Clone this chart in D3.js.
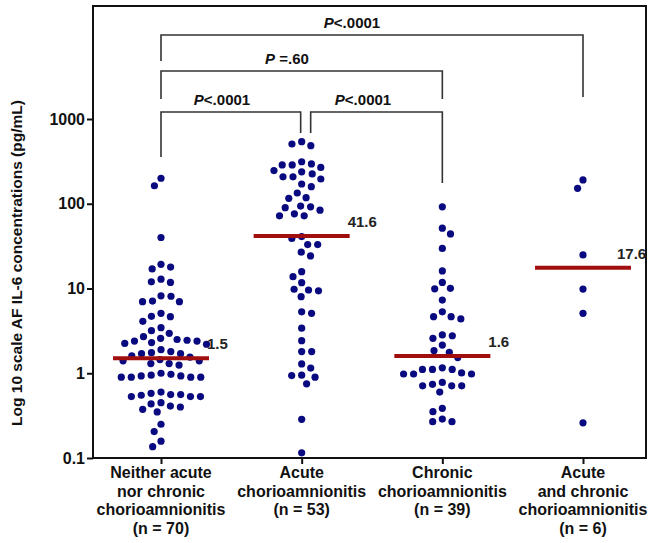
<!DOCTYPE html>
<html>
<head>
<meta charset="utf-8">
<script src="https://cdn.jsdelivr.net/npm/d3@7/dist/d3.min.js"></script>
<style>
body{margin:0;background:#fff;}
text{font-family:"Liberation Sans",Arial,sans-serif;}
</style>
</head>
<body>
<div id="chart"></div>
<script>
// group labels (one line per entry)
let categories = [
    ["Neither acute", "nor chronic", "chorioamnionitis", "(n = 70)"],
    ["Acute", "chorioamnionitis", "(n = 53)"],
    ["Chronic", "chorioamnionitis", "(n = 39)"],
    ["Acute", "and chronic", "chorioamnionitis", "(n = 6)"]
];

// AF IL-6 values (pg/mL)
let neither = [200, 163, 40,
    19.3, 17.0, 17.9, 12.0, 11.8, 12.9,
    8.2, 7.1, 7.0, 7.0, 8.1, 5.1, 4.65, 4.1, 4.7,
    3.45, 2.96, 2.58, 2.70, 3.18,
    2.4, 2.25, 2.2, 2.5, 2.45, 2.3, 2.4,
    1.75, 1.7, 1.55, 1.8, 1.9, 1.6, 1.7,
    1.4, 1.3, 1.45, 1.4, 1.25, 1.3,
    1.0, 0.97, 0.93, 0.9, 0.9, 0.9, 0.9, 0.93, 0.95,
    0.6, 0.56, 0.53, 0.53, 0.55, 0.53, 0.56, 0.58,
    0.435, 0.40, 0.35, 0.375, 0.41, 0.45,
    0.25, 0.205, 0.158, 0.136];
let acute = [540, 484, 507,
    287, 313, 295, 268, 287,
    208, 246, 225, 238, 196, 208,
    171, 159, 134, 116, 118,
    92, 84, 72, 72, 76, 90, 94,
    39, 41, 33, 33, 26.8, 24.2,
    15.8, 13.8, 11.7, 9.6, 8.0, 9.4, 9.8,
    5.3, 5.1, 3.4, 2.42, 1.8, 1.8, 1.29, 1.15,
    0.94, 0.75, 0.9, 0.95, 0.286, 0.115];
let chronic = [92, 51.5, 44, 29.7, 16.1, 11.8, 9.9, 10.05, 7.3,
    4.65, 4.37, 4.65, 5.3,
    2.83, 2.58, 2.15, 2.77,
    1.85, 1.53, 1.77,
    1.16, 1.11, 0.98, 0.98, 0.98, 1.01, 1.11, 1.11,
    0.74, 0.71, 0.60, 0.71, 0.71, 0.78,
    0.386, 0.352, 0.288, 0.268, 0.268];
let both = [191, 152, 24.9, 9.85, 5.1, 0.26];

let medians = [1.5, 41.6, 1.6, 17.6];
let medianLabels = ["1.5", "41.6", "1.6", "17.6"];
let yTicks = [0.1, 1, 10, 100, 1000];
let yTickLabels = ["0.1", "1", "10", "100", "1000"];

// [from group, to group, p text]
let comparisons = [[0, 3, "<.0001"], [0, 2, " =.60"], [0, 1, "<.0001"], [1, 2, "<.0001"]];

let groups = [neither, acute, chronic, both];

let width = 649, height = 543;
let svg = d3.select("#chart").append("svg")
    .attr("width", width).attr("height", height);

let plotLeft = 93, plotRight = 646, plotTop = 6, plotBottom = 458;

let x = d3.scalePoint().domain(d3.range(categories.length)).range([161, 583]);
let y = d3.scaleLog().domain([0.1, 1000]).range([plotBottom, 119]);

// frame
svg.append("path")
    .attr("d", "M" + plotLeft + "," + plotBottom + "V" + plotTop + "H" + plotRight + "V" + plotBottom + "H" + plotLeft)
    .attr("fill", "none").attr("stroke", "#111").attr("stroke-width", 2);

// y axis
let yAxis = svg.append("g")
    .attr("transform", "translate(" + plotLeft + ",0)")
    .call(d3.axisLeft(y).tickValues(yTicks).tickSize(6).tickPadding(2)
        .tickFormat((d, i) => yTickLabels[i]));
yAxis.select(".domain").remove();
yAxis.selectAll("line").attr("stroke", "#111").attr("stroke-width", 2);
yAxis.selectAll("text").attr("font-size", 16).attr("font-weight", "bold")
    .style("font-family", "'Liberation Sans',Arial,sans-serif").attr("fill", "#111");

// x ticks + labels
let xAxis = svg.append("g")
    .attr("transform", "translate(0," + plotBottom + ")")
    .call(d3.axisBottom(x).tickSize(6).tickFormat(""));
xAxis.select(".domain").remove();
xAxis.selectAll("line").attr("stroke", "#111").attr("stroke-width", 2);

categories.forEach((lines, i) => {
    let t = svg.append("text")
        .attr("text-anchor", "middle")
        .attr("font-size", 16).attr("font-weight", "bold").attr("fill", "#111");
    lines.forEach((s, j) => {
        t.append("tspan").attr("x", x(i)).attr("y", 478 + j * 18.5).text(s);
    });
});

// y title
svg.append("text")
    .attr("transform", "translate(22,263)rotate(-90)")
    .attr("text-anchor", "middle")
    .attr("font-size", 15.5).attr("font-weight", "bold").attr("fill", "#111")
    .text("Log 10 scale AF IL-6 concentrations (pg/mL)");

// simple beeswarm so dots of similar value sit side by side
function swarm(values, cx, d) {
    let pts = values.map(v => ({v: v, y: y(v)})).sort((a, b) => a.y - b.y);
    let placed = [];
    pts.forEach((p, i) => {
        let cands = [0];
        placed.forEach(q => {
            let dy = Math.abs(q.y - p.y);
            if (dy < d) {
                let dx = Math.sqrt(d * d - dy * dy);
                cands.push(q.x - dx, q.x + dx);
            }
        });
        let ok = cands.filter(c => placed.every(q => (q.x - c) ** 2 + (q.y - p.y) ** 2 >= d * d - 0.01));
        ok.sort((a, b) => (Math.abs(a) - Math.abs(b)) || (i % 2 ? a - b : b - a));
        p.x = ok[0];
        placed.push(p);
    });
    return placed.map(p => ({x: cx + p.x, y: p.y}));
}

groups.forEach((vals, i) => {
    svg.append("g").selectAll("circle")
        .data(swarm(vals, x(i), 10))
        .enter().append("circle")
        .attr("cx", d => d.x)
        .attr("cy", d => d.y)
        .attr("r", 3.6)
        .attr("fill", "#0a0a80");
});

// medians
svg.append("g").selectAll("line")
    .data(medians).enter().append("line")
    .attr("x1", (d, i) => x(i) - 48).attr("x2", (d, i) => x(i) + 48)
    .attr("y1", d => y(d)).attr("y2", d => y(d))
    .attr("stroke", "#a00e0e").attr("stroke-width", 4);

svg.append("g").selectAll("text")
    .data(medians).enter().append("text")
    .attr("x", (d, i) => x(i) + (i == 3 ? 34 : 46))
    .attr("y", d => y(d) - 9)
    .attr("font-size", 15).attr("font-weight", "bold").attr("fill", "#222")
    .text((d, i) => medianLabels[i]);

// significance brackets
let bracketY = [35, 71, 112, 112];
let legEnd = [[61, 97], [99, 99], [157, 133], [133, 183]];
let endShift = [[0, 0], [0, 0], [0, -1], [9, 0]];
let labelX = [352, 287, 222, 363];

comparisons.forEach((c, k) => {
    let x1 = x(c[0]) + endShift[k][0], x2 = x(c[1]) + endShift[k][1];
    svg.append("path")
        .attr("d", "M" + x1 + "," + legEnd[k][0] + "V" + bracketY[k] + "H" + x2 + "V" + legEnd[k][1])
        .attr("fill", "none").attr("stroke", "#333").attr("stroke-width", 1.6);
    let t = svg.append("text")
        .attr("x", labelX[k]).attr("y", bracketY[k] - 7)
        .attr("text-anchor", "middle")
        .attr("font-size", 15).attr("font-weight", "bold").attr("fill", "#111");
    t.append("tspan").attr("font-style", "italic").text("P");
    t.append("tspan").text(c[2]);
});
</script>
</body>
</html>
